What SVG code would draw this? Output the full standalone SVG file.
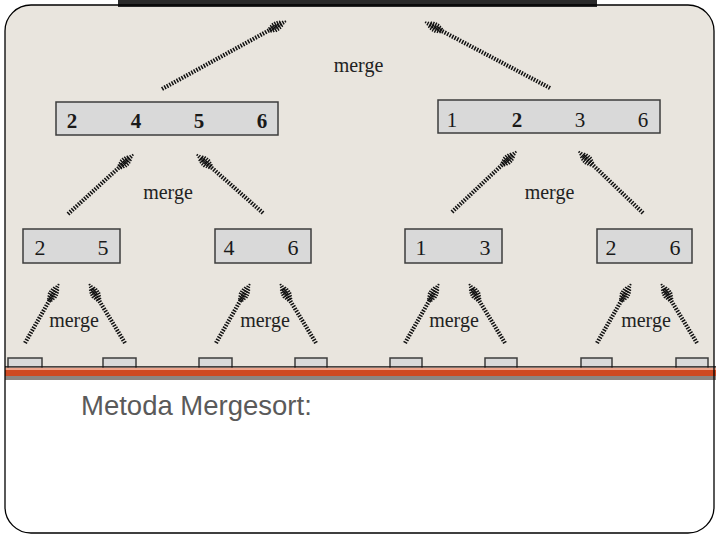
<svg xmlns="http://www.w3.org/2000/svg" width="720" height="540" viewBox="0 0 720 540">
<defs>
<clipPath id="frameClip"><rect x="5" y="5" width="709" height="528" rx="26" ry="26"/></clipPath>
<path id="head" d="M-3,-1v2M-5.5,-2v4M-8,-3.5v7M-10.5,-4.5v9M-13,-5v10M-15.5,-5v10M-18,-4v8M-20.5,-3v6" class="head"/>
<style>
.box{fill:#d9d9d9;stroke:#3c3c3c;stroke-width:1.5}
.num{font-family:"Liberation Serif","Times New Roman",serif;font-size:21px;fill:#1a1a1a;text-anchor:middle}
.n3{font-size:22px}
.b{font-weight:bold}
.lbl{font-family:"Liberation Serif","Times New Roman",serif;font-size:20px;fill:#222;text-anchor:middle}
.shaft{stroke:#111;stroke-width:4.2;stroke-dasharray:1.5 1.3;fill:none}
.head{stroke:#111;stroke-width:1.4;fill:none}
.title{font-family:"Liberation Sans",Arial,sans-serif;font-size:27.5px;fill:#5a5a5a}
</style>
</defs>
<rect x="0" y="0" width="720" height="540" fill="#ffffff"/>
<g clip-path="url(#frameClip)">
<rect x="0" y="0" width="720" height="367" fill="#e9e5de"/>
</g>
<g id="n-root"><rect x="118" y="0" width="479" height="7" fill="#2a2a2a"/></g>
<g id="n-2456">
<rect class="box" x="56" y="102" width="222" height="33"/>
<text class="num b" x="72" y="128">2</text><text class="num b" x="136" y="128">4</text><text class="num b" x="199" y="128">5</text><text class="num b" x="262" y="128">6</text>
</g>
<g id="n-1236">
<rect class="box" x="438" y="100" width="222" height="33"/>
<text class="num" x="452" y="127">1</text><text class="num b" x="517" y="127">2</text><text class="num" x="580" y="127">3</text><text class="num" x="643" y="127">6</text>
</g>
<g id="n-25"><rect class="box" x="23" y="229" width="97" height="34"/><text class="num n3" x="40" y="255">2</text><text class="num n3" x="103" y="255">5</text></g>
<g id="n-46"><rect class="box" x="215" y="229" width="96" height="34"/><text class="num n3" x="229" y="255">4</text><text class="num n3" x="293" y="255">6</text></g>
<g id="n-13"><rect class="box" x="405" y="229" width="97" height="34"/><text class="num n3" x="421" y="255">1</text><text class="num n3" x="485" y="255">3</text></g>
<g id="n-26"><rect class="box" x="597" y="229" width="95" height="34"/><text class="num n3" x="611" y="255">2</text><text class="num n3" x="675" y="255">6</text></g>
<g id="n-leaf1"><rect class="box" x="8" y="358" width="34" height="14"/></g>
<g id="n-leaf2"><rect class="box" x="103" y="358" width="33" height="14"/></g>
<g id="n-leaf3"><rect class="box" x="199" y="358" width="33" height="14"/></g>
<g id="n-leaf4"><rect class="box" x="295" y="358" width="32" height="14"/></g>
<g id="n-leaf5"><rect class="box" x="390" y="358" width="32" height="14"/></g>
<g id="n-leaf6"><rect class="box" x="485" y="358" width="32" height="14"/></g>
<g id="n-leaf7"><rect class="box" x="581" y="358" width="31" height="14"/></g>
<g id="n-leaf8"><rect class="box" x="676" y="358" width="32" height="14"/></g>
<g id="connectors">
<line class="shaft" x1="162" y1="89" x2="281" y2="23.8"/><use href="#head" transform="translate(288,20) rotate(-28.7)"/>
<line class="shaft" x1="550" y1="88" x2="430" y2="24.7"/><use href="#head" transform="translate(423,21) rotate(-152.2)"/>
<line class="shaft" x1="68" y1="214" x2="129" y2="158.4"/><use href="#head" transform="translate(135,153) rotate(-42.3)"/>
<line class="shaft" x1="263" y1="213" x2="201" y2="158.3"/><use href="#head" transform="translate(195,153) rotate(-138.6)"/>
<line class="shaft" x1="452" y1="212" x2="512" y2="155.5"/><use href="#head" transform="translate(518,150) rotate(-43.2)"/>
<line class="shaft" x1="643" y1="213" x2="583" y2="155.5"/><use href="#head" transform="translate(577,150) rotate(-136.3)"/>
<line class="shaft" x1="25" y1="343" x2="56" y2="289"/><use href="#head" transform="translate(60,282) rotate(-60.2)"/>
<line class="shaft" x1="125" y1="343" x2="92" y2="289"/><use href="#head" transform="translate(88,282) rotate(-121.2)"/>
<line class="shaft" x1="216" y1="343" x2="247" y2="289"/><use href="#head" transform="translate(251,282) rotate(-60.2)"/>
<line class="shaft" x1="316" y1="343" x2="283" y2="289"/><use href="#head" transform="translate(279,282) rotate(-121.2)"/>
<line class="shaft" x1="405" y1="343" x2="436" y2="289"/><use href="#head" transform="translate(440,282) rotate(-60.2)"/>
<line class="shaft" x1="505" y1="343" x2="472" y2="289"/><use href="#head" transform="translate(468,282) rotate(-121.2)"/>
<line class="shaft" x1="597" y1="343" x2="628" y2="289"/><use href="#head" transform="translate(632,282) rotate(-60.2)"/>
<line class="shaft" x1="697" y1="343" x2="664" y2="289"/><use href="#head" transform="translate(660,282) rotate(-121.2)"/>
</g>
<g id="labels">
<text class="lbl" x="358.5" y="72">merge</text>
<text class="lbl" x="168" y="199">merge</text>
<text class="lbl" x="549.5" y="199">merge</text>
<text class="lbl" x="74" y="327">merge</text>
<text class="lbl" x="265" y="327">merge</text>
<text class="lbl" x="454" y="327">merge</text>
<text class="lbl" x="646" y="327">merge</text>
</g>
<g id="bands">
<rect x="5" y="367.5" width="711" height="2.5" fill="#eea58c"/>
<rect x="5" y="370" width="711" height="6" fill="#cf4a22"/>
<rect x="5" y="376" width="711" height="4" fill="#8d8682"/>
<line x1="5" y1="366.8" x2="716" y2="366.8" stroke="#111" stroke-width="1.3"/>
</g>
<rect x="5" y="5" width="709" height="528" rx="26" ry="26" fill="none" stroke="#000" stroke-width="1.3"/>
<text class="title" x="81" y="415">Metoda Mergesort:</text>
</svg>
